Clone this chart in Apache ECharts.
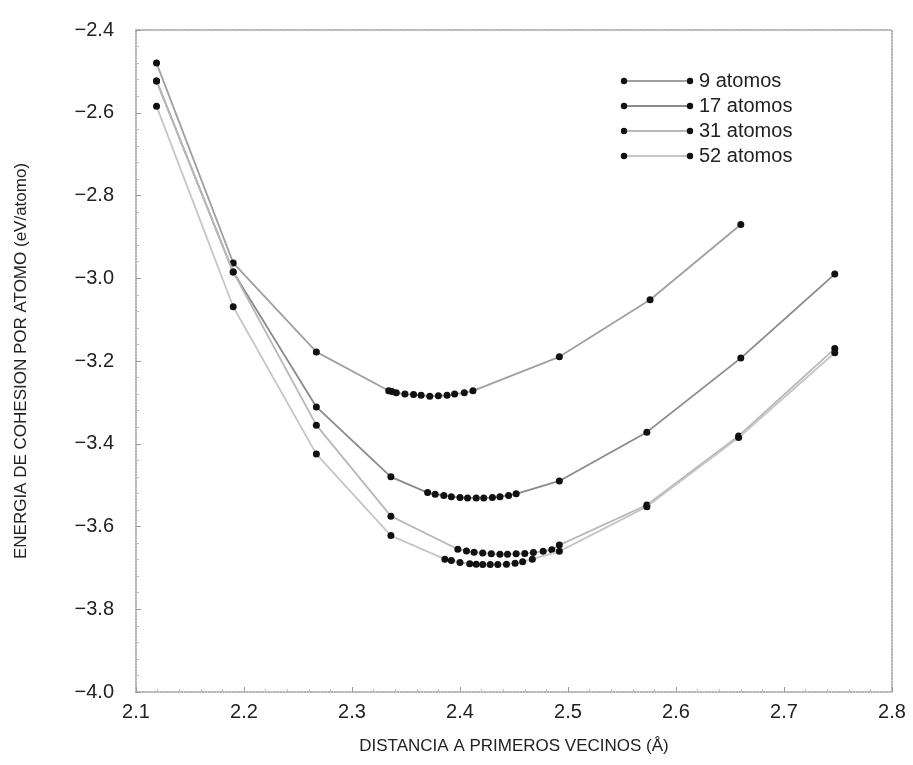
<!DOCTYPE html>
<html>
<head>
<meta charset="utf-8">
<script src="https://cdn.jsdelivr.net/npm/echarts@6/dist/echarts.min.js"></script>
<style>
  html, body { margin: 0; padding: 0; background: #fff; }
  #main { width: 913px; height: 765px; }
</style>
</head>
<body>
<div id="main"></div>
<script>
// legend names
let seriesNames = ['9 atomos', '17 atomos', '31 atomos', '52 atomos'];

// 9 atomos
let x9 = [2.119, 2.190, 2.267, 2.334, 2.337, 2.341, 2.349, 2.357, 2.364, 2.372, 2.380, 2.388, 2.395, 2.404, 2.412, 2.492, 2.576, 2.660];
let y9 = [-2.480, -2.963, -3.178, -3.272, -3.274, -3.277, -3.280, -3.281, -3.283, -3.285, -3.284, -3.283, -3.280, -3.277, -3.272, -3.190, -3.052, -2.870];

// 17 atomos
let x17 = [2.119, 2.190, 2.267, 2.336, 2.370, 2.377, 2.385, 2.392, 2.400, 2.407, 2.415, 2.422, 2.430, 2.437, 2.445, 2.452, 2.492, 2.573, 2.660, 2.747];
let y17 = [-2.523, -2.985, -3.311, -3.480, -3.518, -3.522, -3.525, -3.528, -3.530, -3.531, -3.531, -3.531, -3.530, -3.528, -3.525, -3.521, -3.490, -3.372, -3.193, -2.990];

// 31 atomos
let x31 = [2.119, 2.190, 2.267, 2.336, 2.398, 2.406, 2.413, 2.421, 2.429, 2.437, 2.444, 2.452, 2.460, 2.468, 2.477, 2.485, 2.492, 2.573, 2.658, 2.747];
let y31 = [-2.523, -2.985, -3.355, -3.575, -3.655, -3.659, -3.662, -3.664, -3.666, -3.667, -3.667, -3.666, -3.665, -3.663, -3.660, -3.656, -3.645, -3.548, -3.381, -3.170];

// 52 atomos
let x52 = [2.119, 2.190, 2.267, 2.336, 2.386, 2.392, 2.400, 2.409, 2.415, 2.421, 2.428, 2.435, 2.443, 2.451, 2.458, 2.467, 2.492, 2.573, 2.658, 2.747];
let y52 = [-2.584, -3.069, -3.425, -3.622, -3.679, -3.682, -3.687, -3.690, -3.691, -3.692, -3.692, -3.692, -3.691, -3.689, -3.685, -3.679, -3.660, -3.552, -3.385, -3.180];

let lineColors = ['#a0a0a0', '#8a8a8a', '#b8b8b8', '#c6c6c6'];

function pairs(xs, ys) {
    return xs.map((x, i) => [x, ys[i]]);
}

function legendIcon(color) {
    let svg = "<svg xmlns='http://www.w3.org/2000/svg' width='74' height='10'>" +
        "<line x1='4' y1='5' x2='70' y2='5' stroke='" + color + "' stroke-width='2'/>" +
        "<circle cx='4' cy='5' r='3.2' fill='#111'/><circle cx='70' cy='5' r='3.2' fill='#111'/></svg>";
    return 'image://data:image/svg+xml;charset=utf-8,' + encodeURIComponent(svg);
}

let allData = [pairs(x9, y9), pairs(x17, y17), pairs(x31, y31), pairs(x52, y52)];
let fontFamily = "'Liberation Sans', Arial, Helvetica, sans-serif";

let frameLine = { show: true, lineStyle: { color: '#999', type: 'dotted', width: 1.5 } };

let chart = echarts.init(document.getElementById('main'));
let option = {
    animation: false,
    backgroundColor: '#fff',
    grid: { left: 136, right: 21, top: 30, bottom: 73 },
    legend: {
        orient: 'vertical',
        left: 615,
        top: 66,
        itemWidth: 74,
        itemHeight: 10,
        itemGap: 5,
        textStyle: { fontSize: 20, color: '#222', fontFamily: fontFamily },
        data: seriesNames.map((n, i) => ({ name: n, icon: legendIcon(lineColors[i]) }))
    },
    xAxis: [{
        type: 'value',
        min: 2.1,
        max: 2.8,
        interval: 0.1,
        name: 'DISTANCIA A PRIMEROS VECINOS (Å)',
        nameLocation: 'middle',
        nameGap: 46,
        nameTextStyle: { fontSize: 17, color: '#222', fontFamily: fontFamily },
        axisLine: frameLine,
        axisTick: { inside: true, length: 5, lineStyle: { color: '#999' } },
        minorTick: { show: true, splitNumber: 5, length: 3, lineStyle: { color: '#bbb' } },
        axisLabel: {
            fontSize: 20, color: '#222', fontFamily: fontFamily, margin: 10,
            formatter: v => v.toFixed(1)
        },
        splitLine: { show: false }
    }, {
        type: 'value',
        position: 'top',
        min: 2.1,
        max: 2.8,
        interval: 0.1,
        axisLine: frameLine,
        axisTick: { show: false },
        axisLabel: { show: false },
        splitLine: { show: false }
    }],
    yAxis: [{
        type: 'value',
        min: -4.0,
        max: -2.4,
        interval: 0.2,
        name: 'ENERGIA DE COHESION POR ATOMO (eV/atomo)',
        nameLocation: 'middle',
        nameGap: 106,
        nameTextStyle: { fontSize: 17, color: '#222', fontFamily: fontFamily },
        axisLine: frameLine,
        axisTick: { inside: true, length: 5, lineStyle: { color: '#999' } },
        minorTick: { show: true, splitNumber: 5, length: 3, lineStyle: { color: '#bbb' } },
        axisLabel: {
            fontSize: 20, color: '#222', fontFamily: fontFamily, margin: 22,
            formatter: v => v.toFixed(1).replace('-', '\u2212')
        },
        splitLine: { show: false }
    }, {
        type: 'value',
        position: 'right',
        min: -4.0,
        max: -2.4,
        interval: 0.2,
        axisLine: frameLine,
        axisTick: { show: false },
        axisLabel: { show: false },
        splitLine: { show: false }
    }],
    series: seriesNames.map((n, i) => ({
        name: n,
        type: 'line',
        data: allData[i],
        symbol: 'circle',
        symbolSize: 7,
        showAllSymbol: true,
        itemStyle: { color: '#111' },
        lineStyle: { color: lineColors[i], width: 1.8 },
        z: 3 + i
    }))
};
chart.setOption(option);
</script>
</body>
</html>
